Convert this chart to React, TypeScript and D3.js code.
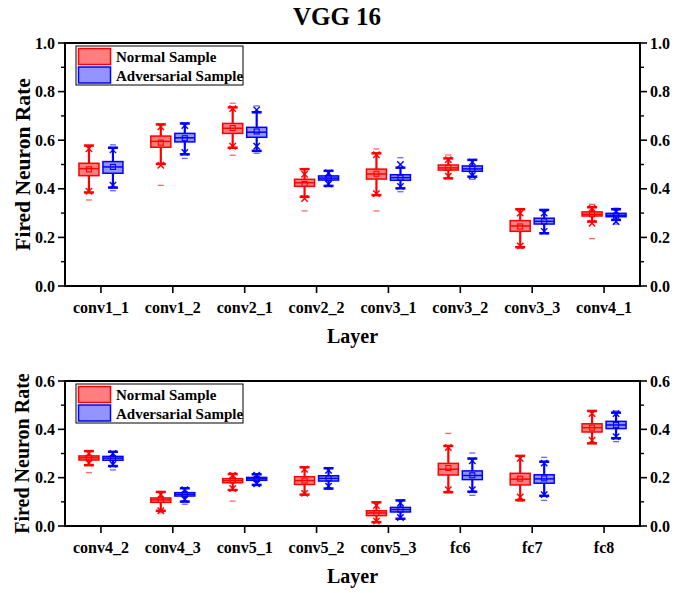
import React from "react";
import * as d3 from "d3";

type Stat = { min: number; lo: number; p1: number; q1: number; med: number; mean: number; q3: number; hi: number; p99: number; max: number };
const S = (min: number, lo: number, p1: number, q1: number, med: number, mean: number, q3: number, hi: number, p99: number, max: number): Stat => ({ min, lo, p1, q1, med, mean, q3, hi, p99, max });

const title = "VGG 16";
const seriesNames = ["Normal Sample", "Adversarial Sample"];
const topLayers = ["conv1_1", "conv1_2", "conv2_1", "conv2_2", "conv3_1", "conv3_2", "conv3_3", "conv4_1"];
const bottomLayers = ["conv4_2", "conv4_3", "conv5_1", "conv5_2", "conv5_3", "fc6", "fc7", "fc8"];

const topNormal: Stat[] = [
  S(0.354, 0.385, 0.39, 0.454, 0.483, 0.48, 0.505, 0.578, 0.565, 0.578),
  S(0.414, 0.502, 0.497, 0.571, 0.595, 0.59, 0.617, 0.665, 0.655, 0.665),
  S(0.538, 0.569, 0.575, 0.628, 0.649, 0.65, 0.669, 0.735, 0.73, 0.752),
  S(0.309, 0.367, 0.36, 0.41, 0.425, 0.42, 0.439, 0.481, 0.46, 0.481),
  S(0.309, 0.374, 0.38, 0.44, 0.461, 0.462, 0.481, 0.546, 0.54, 0.564),
  S(0.443, 0.443, 0.452, 0.477, 0.486, 0.486, 0.498, 0.525, 0.52, 0.539),
  S(0.155, 0.16, 0.165, 0.225, 0.247, 0.245, 0.269, 0.316, 0.3, 0.316),
  S(0.195, 0.265, 0.258, 0.288, 0.295, 0.295, 0.305, 0.324, 0.32, 0.336),
];
const topAdv: Stat[] = [
  S(0.392, 0.405, 0.415, 0.464, 0.49, 0.49, 0.512, 0.569, 0.56, 0.581),
  S(0.525, 0.542, 0.55, 0.593, 0.61, 0.608, 0.628, 0.669, 0.66, 0.669),
  S(0.546, 0.556, 0.575, 0.612, 0.633, 0.636, 0.653, 0.715, 0.725, 0.741),
  S(0.41, 0.412, 0.42, 0.436, 0.444, 0.444, 0.453, 0.474, 0.465, 0.474),
  S(0.388, 0.402, 0.41, 0.435, 0.446, 0.446, 0.458, 0.487, 0.5, 0.528),
  S(0.439, 0.45, 0.455, 0.472, 0.482, 0.482, 0.494, 0.519, 0.51, 0.519),
  S(0.217, 0.217, 0.225, 0.255, 0.266, 0.266, 0.279, 0.313, 0.3, 0.313),
  S(0.255, 0.272, 0.265, 0.285, 0.291, 0.29, 0.299, 0.316, 0.305, 0.32),
];
const bottomNormal: Stat[] = [
  S(0.221, 0.252, 0.26, 0.273, 0.282, 0.282, 0.29, 0.31, 0.3, 0.31),
  S(0.055, 0.063, 0.063, 0.098, 0.108, 0.108, 0.116, 0.141, 0.13, 0.141),
  S(0.103, 0.149, 0.155, 0.179, 0.188, 0.188, 0.196, 0.215, 0.21, 0.215),
  S(0.127, 0.13, 0.135, 0.172, 0.188, 0.188, 0.204, 0.243, 0.235, 0.243),
  S(0.014, 0.016, 0.02, 0.043, 0.054, 0.054, 0.063, 0.098, 0.085, 0.098),
  S(0.138, 0.14, 0.15, 0.211, 0.235, 0.24, 0.259, 0.331, 0.325, 0.383),
  S(0.103, 0.107, 0.12, 0.17, 0.194, 0.196, 0.218, 0.29, 0.28, 0.29),
  S(0.342, 0.342, 0.355, 0.389, 0.407, 0.407, 0.423, 0.476, 0.465, 0.476),
];
const bottomAdv: Stat[] = [
  S(0.232, 0.248, 0.255, 0.272, 0.281, 0.281, 0.288, 0.307, 0.3, 0.307),
  S(0.09, 0.101, 0.11, 0.124, 0.131, 0.131, 0.138, 0.156, 0.15, 0.156),
  S(0.168, 0.17, 0.175, 0.189, 0.195, 0.195, 0.201, 0.214, 0.21, 0.214),
  S(0.152, 0.155, 0.165, 0.186, 0.197, 0.197, 0.208, 0.239, 0.23, 0.239),
  S(0.028, 0.03, 0.035, 0.058, 0.068, 0.068, 0.077, 0.106, 0.095, 0.106),
  S(0.127, 0.142, 0.15, 0.192, 0.209, 0.21, 0.228, 0.279, 0.27, 0.302),
  S(0.106, 0.125, 0.13, 0.177, 0.195, 0.197, 0.212, 0.266, 0.26, 0.284),
  S(0.349, 0.363, 0.37, 0.403, 0.418, 0.418, 0.433, 0.469, 0.465, 0.476),
];
const topTicks = [0, 0.2, 0.4, 0.6, 0.8, 1.0];
const topMinor = [0.1, 0.3, 0.5, 0.7, 0.9];
const bottomTicks = [0, 0.2, 0.4, 0.6];
const bottomMinor = [0.1, 0.3, 0.5];

const colors = ["#ff0000", "#0000ff"];
const fills = ["rgba(255,0,0,0.5)", "rgba(0,0,255,0.42)"];
const FONT = "'Liberation Serif', 'Times New Roman', serif";

function BoxMark({ s, cx, y, ci }: { s: Stat; cx: number; y: d3.ScaleLinear<number, number>; ci: number }) {
  const c = colors[ci];
  const w = 20;
  const cap = 10;
  const xs = 3.2;
  return (
    <g>
      <line x1={cx} x2={cx} y1={y(s.q3)} y2={y(s.hi)} stroke={c} strokeWidth={2.2} />
      <line x1={cx} x2={cx} y1={y(s.q1)} y2={y(s.lo)} stroke={c} strokeWidth={2.2} />
      <line x1={cx - cap / 2} x2={cx + cap / 2} y1={y(s.hi)} y2={y(s.hi)} stroke={c} strokeWidth={2.5} />
      <line x1={cx - cap / 2} x2={cx + cap / 2} y1={y(s.lo)} y2={y(s.lo)} stroke={c} strokeWidth={2.5} />
      <rect x={cx - w / 2} y={y(s.q3)} width={w} height={Math.max(1, y(s.q1) - y(s.q3))} fill={fills[ci]} stroke={c} strokeWidth={1.5} />
      <line x1={cx - w / 2} x2={cx + w / 2} y1={y(s.med)} y2={y(s.med)} stroke={c} strokeWidth={1.5} />
      <rect x={cx - 2.5} y={y(s.mean) - 2.5} width={5} height={5} fill="none" stroke={c} strokeWidth={1.1} />
      {[s.p1, s.p99].map((v, i) => (
        <path key={i} d={`M${cx - xs},${y(v) - xs}L${cx + xs},${y(v) + xs}M${cx - xs},${y(v) + xs}L${cx + xs},${y(v) - xs}`} stroke={c} strokeWidth={1.4} fill="none" />
      ))}
      {[s.min, s.max].map((v, i) => (
        <line key={i} x1={cx - 3} x2={cx + 3} y1={y(v)} y2={y(v)} stroke={c} strokeOpacity={0.6} strokeWidth={1.3} />
      ))}
    </g>
  );
}

function Panel({ layers, data, y0, y1, maxV, ticks, minor, ylabelSize }: { layers: string[]; data: Stat[][]; y0: number; y1: number; maxV: number; ticks: number[]; minor: number[]; ylabelSize: number }) {
  const x0 = 65, x1 = 640;
  const x = d3.scaleBand<string>().domain(layers).range([x0, x1]).padding(0);
  const y = d3.scaleLinear().domain([0, maxV]).range([y1, y0]);
  const off = [-12, 12];
  const fmt = d3.format(".1f");
  const legX = 76, legY = y0 + 3;
  return (
    <g>
      <rect x={x0} y={y0} width={x1 - x0} height={y1 - y0} fill="none" stroke="#000" strokeWidth={2} />
      {ticks.map((t) => (
        <g key={"t" + t}>
          <line x1={x0 - 7} x2={x0} y1={y(t)} y2={y(t)} stroke="#000" strokeWidth={1.6} />
          <line x1={x1} x2={x1 + 7} y1={y(t)} y2={y(t)} stroke="#000" strokeWidth={1.6} />
          <text x={x0 - 10} y={y(t)} dy="0.35em" textAnchor="end" fontSize={16} fontWeight="bold" fontFamily={FONT}>{fmt(t)}</text>
          <text x={x1 + 10} y={y(t)} dy="0.35em" textAnchor="start" fontSize={16} fontWeight="bold" fontFamily={FONT}>{fmt(t)}</text>
        </g>
      ))}
      {minor.map((t) => (
        <g key={"m" + t}>
          <line x1={x0 - 4} x2={x0} y1={y(t)} y2={y(t)} stroke="#000" strokeWidth={1.4} />
          <line x1={x1} x2={x1 + 4} y1={y(t)} y2={y(t)} stroke="#000" strokeWidth={1.4} />
        </g>
      ))}
      {layers.map((l) => {
        const cx = (x(l) as number) + x.bandwidth() / 2;
        return (
          <g key={l}>
            <line x1={cx} x2={cx} y1={y1} y2={y1 + 7} stroke="#000" strokeWidth={1.6} />
            <text x={cx} y={y1 + 27} textAnchor="middle" fontSize={16} fontWeight="bold" fontFamily={FONT}>{l}</text>
          </g>
        );
      })}
      {layers.map((l, i) => {
        const cx = (x(l) as number) + x.bandwidth() / 2;
        return (
          <g key={"b" + l}>
            {data.map((series, si) => (
              <BoxMark key={si} s={series[i]} cx={cx + off[si]} y={y} ci={si} />
            ))}
          </g>
        );
      })}
      <rect x={legX} y={legY} width={167} height={39} fill="#fff" stroke="#000" strokeWidth={1} />
      {seriesNames.map((n, i) => (
        <g key={n}>
          <rect x={legX + 2.5} y={legY + 2.5 + i * 18.5} width={32} height={16} fill={fills[i]} stroke={colors[i]} strokeWidth={1.5} />
          <text x={legX + 40} y={legY + 16 + i * 18.5} fontSize={15} fontWeight="bold" fontFamily={FONT}>{n}</text>
        </g>
      ))}
      <text transform={`translate(22,${(y0 + y1) / 2}) rotate(-90)`} dy="0.35em" textAnchor="middle" fontSize={ylabelSize} fontWeight="bold" fontFamily={FONT}>Fired Neuron Rate</text>
      <text x={(x0 + x1) / 2} y={y1 + 57} textAnchor="middle" fontSize={20} fontWeight="bold" fontFamily={FONT}>Layer</text>
    </g>
  );
}

export default function App() {
  return (
    <svg width={675} height={593} style={{ display: "block", position: "absolute", left: 0, top: 0, background: "#fff" }}>
      <rect width={675} height={593} fill="#fff" />
      <text x={337} y={25} textAnchor="middle" fontSize={25} fontWeight="bold" fontFamily={FONT}>{title}</text>
      <Panel layers={topLayers} data={[topNormal, topAdv]} y0={43} y1={286} maxV={1.0} ticks={topTicks} minor={topMinor} ylabelSize={21.5} />
      <Panel layers={bottomLayers} data={[bottomNormal, bottomAdv]} y0={381} y1={526} maxV={0.6} ticks={bottomTicks} minor={bottomMinor} ylabelSize={20} />
    </svg>
  );
}
